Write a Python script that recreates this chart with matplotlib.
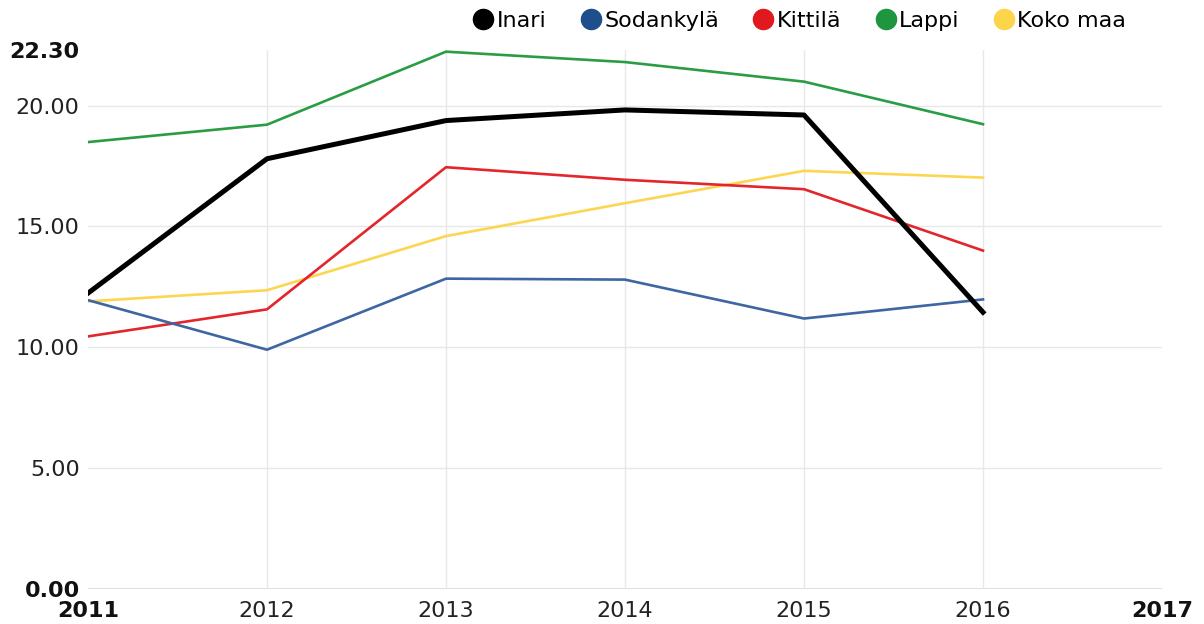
import matplotlib.pyplot as plt
from matplotlib.lines import Line2D

years = [2011, 2012, 2013, 2014, 2015, 2016]
inari = [12.24, 17.80, 19.38, 19.82, 19.61, 11.45]
sodankyla = [11.95, 9.90, 12.84, 12.80, 11.19, 11.98]
kittila = [10.45, 11.57, 17.45, 16.93, 16.54, 14.00]
lappi = [18.49, 19.21, 22.23, 21.80, 20.99, 19.23]
koko_maa = [11.90, 12.36, 14.60, 15.96, 17.30, 17.02]

names = ['Inari', 'Sodankylä', 'Kittilä', 'Lappi', 'Koko maa']
line_colors = ['#000000', '#3d66a2', '#e3262b', '#2a9d44', '#fdd651']
dot_colors = ['#000000', '#1f4e8c', '#e0191f', '#1e9640', '#fdd54a']

yticks = [0, 5, 10, 15, 20, 22.3]
xticks = [2011, 2012, 2013, 2014, 2015, 2016, 2017]

fig = plt.figure(figsize=(12.04, 6.24), dpi=100)
ax = fig.add_axes([0.0731, 0.0561, 0.8920, 0.8638])

ax.plot(years, lappi, color=line_colors[3], lw=1.9, zorder=3)
ax.plot(years, koko_maa, color=line_colors[4], lw=1.9, zorder=3)
ax.plot(years, kittila, color=line_colors[2], lw=1.9, zorder=3)
ax.plot(years, sodankyla, color=line_colors[1], lw=1.9, zorder=3)
ax.plot(years, inari, color=line_colors[0], lw=3.6, zorder=4)

ax.set_xlim(2011, 2017)
ax.set_ylim(0, 22.3)

# grid
for y in [5, 10, 15, 20]:
    ax.axhline(y, color='#e8e8e8', lw=1, zorder=1)
ax.axhline(0, color='#dcdcdc', lw=2, zorder=1)
for x in xticks[1:-1]:
    ax.axvline(x, color='#e8e8e8', lw=1, zorder=1)

for s in ax.spines.values():
    s.set_visible(False)

ax.set_yticks(yticks)
ax.set_yticklabels(['%.2f' % v for v in yticks])
ax.set_xticks(xticks)
ax.set_xticklabels([str(v) for v in xticks])
ax.tick_params(axis='both', length=0, labelsize=16, labelcolor='#222222')
ax.tick_params(axis='y', pad=6)
ax.tick_params(axis='x', pad=9)
for lab in [ax.get_yticklabels()[0], ax.get_yticklabels()[-1],
            ax.get_xticklabels()[0], ax.get_xticklabels()[-1]]:
    lab.set_fontweight('bold')
    lab.set_color('#111111')

handles = [Line2D([], [], ls='none', marker='o', markersize=14.5,
                  markerfacecolor=c, markeredgecolor=c) for c in dot_colors]
fig.legend(handles, names, loc='upper right', bbox_to_anchor=(0.952, 1.014),
           ncol=5, frameon=False, fontsize=16, handletextpad=0.0,
           columnspacing=1.4, handlelength=1.2)

fig.savefig('out.png', dpi=100, facecolor='white')
